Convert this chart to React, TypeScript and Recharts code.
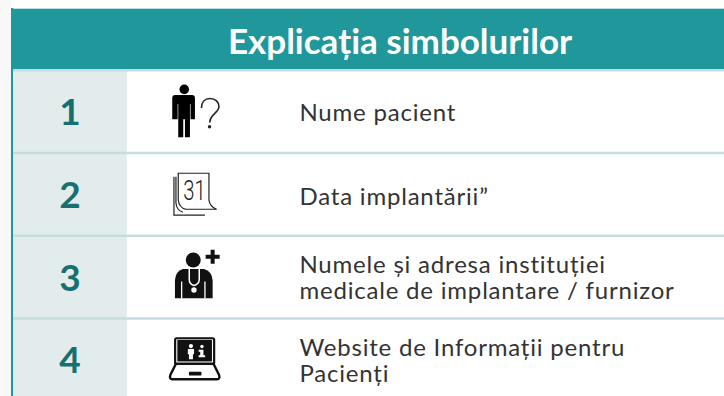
import { BarChart, Bar, XAxis, YAxis, LabelList } from 'recharts';

// legend table: one stacked bar per row (number cell + description cell)
const rowNumbers = ['1', '2', '3', '4'];
const numberShare = [1, 1, 1, 1];
const descriptionShare = [5.24, 5.24, 5.24, 5.24];
const descriptions = [
  ['Nume pacient'],
  ['Data implantării”'],
  ['Numele și adresa instituției', 'medicale de implantare / furnizor'],
  ['Website de Informații pentru', 'Pacienți'],
];
const title = 'Explicația simbolurilor';

const data = rowNumbers.map((row, i) => ({
  row,
  number: numberShare[i],
  description: descriptionShare[i],
}));

const TEAL = '#1f979b';
const TEAL_DARK = '#17706f';
const LINE = '#c6dde0';
const CELL = '#e3ecec';
const INK = '#333333';
const FONT = 'Lato, sans-serif';

// icons are drawn in row-local coords, origin at x=150 and top of the row
function PersonIcon() {
  return (
    <g>
      <circle cx={34.3} cy={19.4} r={4.8} fill="#000" />
      <path
        d="M25.3 25 H42 Q45 25 45 28 V49.3 H40.6 V34 H40 V67.3 H35 V49.3 H33.3 V67.3 H28.3 V34 H27.7 V49.3 H22.3 V28 Q22.3 25 25.3 25 Z"
        fill="#000"
      />
      <path
        d="M51.5 38 C51.5 32 55 28.5 60 28.5 C65.5 28.5 69 32 69 36.5 C69 43 59.8 44 59.8 52.5"
        fill="none"
        stroke="#222"
        strokeWidth={1.6}
      />
      <circle cx={59.6} cy={56.8} r={1.7} fill="#222" />
    </g>
  );
}

function CalendarIcon() {
  return (
    <g fill="none" stroke="#222" strokeWidth={1.2}>
      <path d="M28.3 20.5 H59 V47.3 Q60 54 66.7 56.5 H36 Q29 55 28.3 47 Z" />
      <path d="M26 24 V50 Q26.5 57.5 33 59.5" />
      <path d="M24 24 V62.3 H55" />
      <text
        x={33.3}
        y={47.3}
        fontFamily="Roboto, sans-serif"
        fontWeight={300}
        fontSize={27}
        textLength={22.5}
        lengthAdjust="spacingAndGlyphs"
        fill="#222"
        stroke="none"
      >
        31
      </text>
    </g>
  );
}

function DoctorIcon() {
  return (
    <g>
      <circle cx={43.3} cy={24.5} r={7.5} fill="#111" />
      <path
        d="M33 33.5 H54 Q62 35.5 62.7 45 V62.8 H25 V45 Q25.5 35.5 33 33.5 Z"
        fill="#111"
      />
      <path d="M39.3 33.5 V44 Q39.3 48.5 44 50 Q49.3 48.5 49.3 44 V33.5" fill="none" stroke="#fff" strokeWidth={1.5} />
      <circle cx={44} cy={54.5} r={2.7} fill="#fff" />
      <path d="M31.7 46 V63 M55 46 V63" stroke="#fff" strokeWidth={1.3} />
      <path d="M62.7 14.2 V28.2 M55.7 21.2 H69.7" stroke="#111" strokeWidth={4} />
    </g>
  );
}

function LaptopIcon() {
  return (
    <g>
      <rect x={25.2} y={20} width={39} height={26} rx={1.5} fill="#fff" stroke="#111" strokeWidth={2.2} />
      <rect x={27.4} y={21.6} width={34.6} height={21.6} fill="#111" />
      <path d="M26 45.5 L20.5 56.5 Q19 61 22.5 61 H67 Q70.5 61 69 56.5 L63.5 45.5 Z" fill="#fff" stroke="#111" strokeWidth={2.4} />
      <rect x={39} y={53.4} width={12.5} height={3.8} rx={0.8} fill="#111" />
      <circle cx={41} cy={27.8} r={2.1} fill="#fff" />
      <path d="M37.9 30.8 H44.1 V36 H43 V41 H39 V36 H37.9 Z" fill="#fff" />
      <circle cx={52} cy={28.3} r={1.7} fill="#fff" />
      <path d="M48.7 31.5 H53.5 V37 H55.2 V39 H48.7 V37 H50.3 V33.4 H48.7 Z" fill="#fff" />
    </g>
  );
}

const icons = [PersonIcon, CalendarIcon, DoctorIcon, LaptopIcon];
const textNudge = [0, 2, 0, 0];

// rectangle cell with the row's top rule on it
function RowCell({ x, y, width, height, fill }: any) {
  return (
    <g>
      <rect x={x} y={y} width={width} height={height} fill={fill} />
      <rect x={x} y={y - 1} width={width} height={2.5} fill={LINE} />
    </g>
  );
}

function NumberLabel({ x, y, width, height, index }: any) {
  return (
    <text
      x={x + width / 2}
      y={y + height / 2 + 13.5}
      textAnchor="middle"
      fontFamily={FONT}
      fontWeight={700}
      fontSize={37}
      fill={TEAL_DARK}
    >
      {rowNumbers[index]}
    </text>
  );
}

function DescriptionLabel({ x, y, height, index }: any) {
  const Icon = icons[index];
  const lines = descriptions[index];
  const centre = y + height / 2 + textNudge[index];
  const lineHeight = 26.5;
  return (
    <g>
      <g transform={`translate(${x + 23},${y})`}>
        <Icon />
      </g>
      {lines.map((line: string, i: number) => (
        <text
          key={line}
          x={x + 172.5}
          y={centre + 9 + (i - (lines.length - 1) / 2) * lineHeight}
          fontFamily={FONT}
          fontSize={24}
          letterSpacing={0.8}
          fill={INK}
        >
          {line}
        </text>
      ))}
    </g>
  );
}

export default function App() {
  return (
    <div style={{ position: 'absolute', left: 0, top: 0, width: 724, height: 396, overflow: 'hidden' }}>
      <BarChart
        width={724}
        height={405}
        data={data}
        layout="vertical"
        barCategoryGap={0}
        margin={{ top: 70, right: 0, bottom: 4, left: 13 }}
      >
        <XAxis type="number" hide domain={[0, 'dataMax']} />
        <YAxis type="category" dataKey="row" hide />
        <rect x={0} y={0} width={11} height={405} fill="#f8f8f8" />
        <rect x={11} y={8} width={713} height={62} fill={TEAL} />
        <rect x={11} y={8} width={713} height={1} fill="#bfe0e0" />
        <rect x={11} y={8} width={2.3} height={397} fill={TEAL} />
        <text x={400} y={54} textAnchor="middle" fontFamily={FONT} fontWeight={700} fontSize={35} fill="#fff">
          {title}
        </text>
        <Bar dataKey="number" stackId="rows" fill={CELL} shape={<RowCell />} isAnimationActive={false}>
          <LabelList dataKey="row" content={<NumberLabel />} />
        </Bar>
        <Bar dataKey="description" stackId="rows" fill="#fff" shape={<RowCell />} isAnimationActive={false}>
          <LabelList dataKey="row" content={<DescriptionLabel />} />
        </Bar>
      </BarChart>
    </div>
  );
}
